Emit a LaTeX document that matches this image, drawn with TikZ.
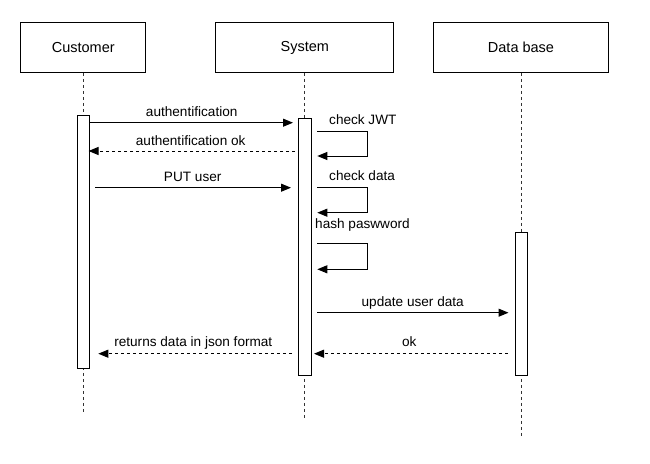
\documentclass[tikz,border=0pt]{standalone}
\usepackage{fontspec}
\setmainfont{Liberation Sans}
\usetikzlibrary{arrows.meta}
\begin{document}
\begin{tikzpicture}[x=1pt,y=-1pt,
  actor/.style={draw, line width=1pt, minimum height=49.6pt, inner sep=0pt, font=\fontsize{14.5}{17}\selectfont},
  life/.style={line width=1pt, draw=black!80, dash pattern=on 3pt off 3pt},
  actbar/.style={draw, fill=white, line width=1pt, minimum width=12.3pt, inner sep=0pt},
  msg/.style={-{Triangle[length=10pt,width=8pt]}, line width=1pt},
  ret/.style={msg, dash pattern=on 3pt off 3pt},
  lbl/.style={font=\fontsize{13.6}{16}\selectfont, anchor=base, inner sep=0pt},
  lbll/.style={lbl, anchor=base west}
]
\useasboundingbox (0,0) rectangle (650,463);

% participants
\node[actor, minimum width=125.3pt] (cust) at (83.3,47.5) {Customer};
\node[actor, minimum width=177.7pt] (sys) at (304.8,47.5) {System};
\node[actor, minimum width=175.4pt] (db) at (521,47.5) {Data base};

% lifelines
\coordinate (custend) at (83.3,412.7);
\coordinate (sysend) at (304.8,420.7);
\coordinate (dbend) at (521,435.7);
\draw[life] (cust.south) -- (custend);
\draw[life] (sys.south) -- (sysend);
\draw[life] (db.south) -- (dbend);

% activation bars
\node[actbar, minimum height=253.7pt] (cbar) at (83.6,241.85) {};
\node[actbar, minimum height=256.5pt] (sbar) at (305,246.75) {};
\node[actbar, minimum height=142.3pt] (dbar) at (521.2,303.85) {};

% message end points
\coordinate (m1a) at (90,122.7);   \coordinate (m1b) at (293,122.7);
\coordinate (m2a) at (295,151);    \coordinate (m2b) at (88.5,151);
\coordinate (m3a) at (95,187.7);   \coordinate (m3b) at (291,187.7);
\coordinate (m4a) at (317.3,312.7); \coordinate (m4b) at (508.5,312.7);
\coordinate (m5a) at (507.7,353.7); \coordinate (m5b) at (314,353.7);
\coordinate (m6a) at (291.7,353.7); \coordinate (m6b) at (98.3,353.7);

% self loops
\coordinate (s1a) at (317.3,131);   \coordinate (s1b) at (367.3,131);
\coordinate (s1c) at (367.3,156);   \coordinate (s1d) at (317.3,156);
\coordinate (s2a) at (317.3,187.5); \coordinate (s2b) at (367.3,187.5);
\coordinate (s2c) at (367.3,212.7); \coordinate (s2d) at (317.3,212.7);
\coordinate (s3a) at (317.3,243.3); \coordinate (s3b) at (367.3,243.3);
\coordinate (s3c) at (367.3,269.3); \coordinate (s3d) at (317.3,269.3);

\draw[msg] (m1a) -- (m1b);
\draw[ret] (m2a) -- (m2b);
\draw[msg] (m3a) -- (m3b);
\draw[msg] (s1a) -- (s1b) -- (s1c) -- (s1d);
\draw[msg] (s2a) -- (s2b) -- (s2c) -- (s2d);
\draw[msg] (s3a) -- (s3b) -- (s3c) -- (s3d);
\draw[msg] (m4a) -- (m4b);
\draw[ret] (m5a) -- (m5b);
\draw[ret] (m6a) -- (m6b);

% labels
\node[lbl] (t1) at (191.7,116.3) {authentification};
\node[lbl] (t2) at (190.7,145) {authentification ok};
\node[lbl] (t3) at (192.7,181) {PUT user};
\node[lbll] (t4) at (329,124.3) {check JWT};
\node[lbll] (t5) at (329,180) {check data};
\node[lbll] (t6) at (315,228.3) {hash paswword};
\node[lbl] (t7) at (412.7,306) {update user data};
\node[lbl] (t8) at (409.3,346.7) {ok};
\node[lbl] (t9) at (193.3,346.7) {returns data in json format};
\end{tikzpicture}
\end{document}
